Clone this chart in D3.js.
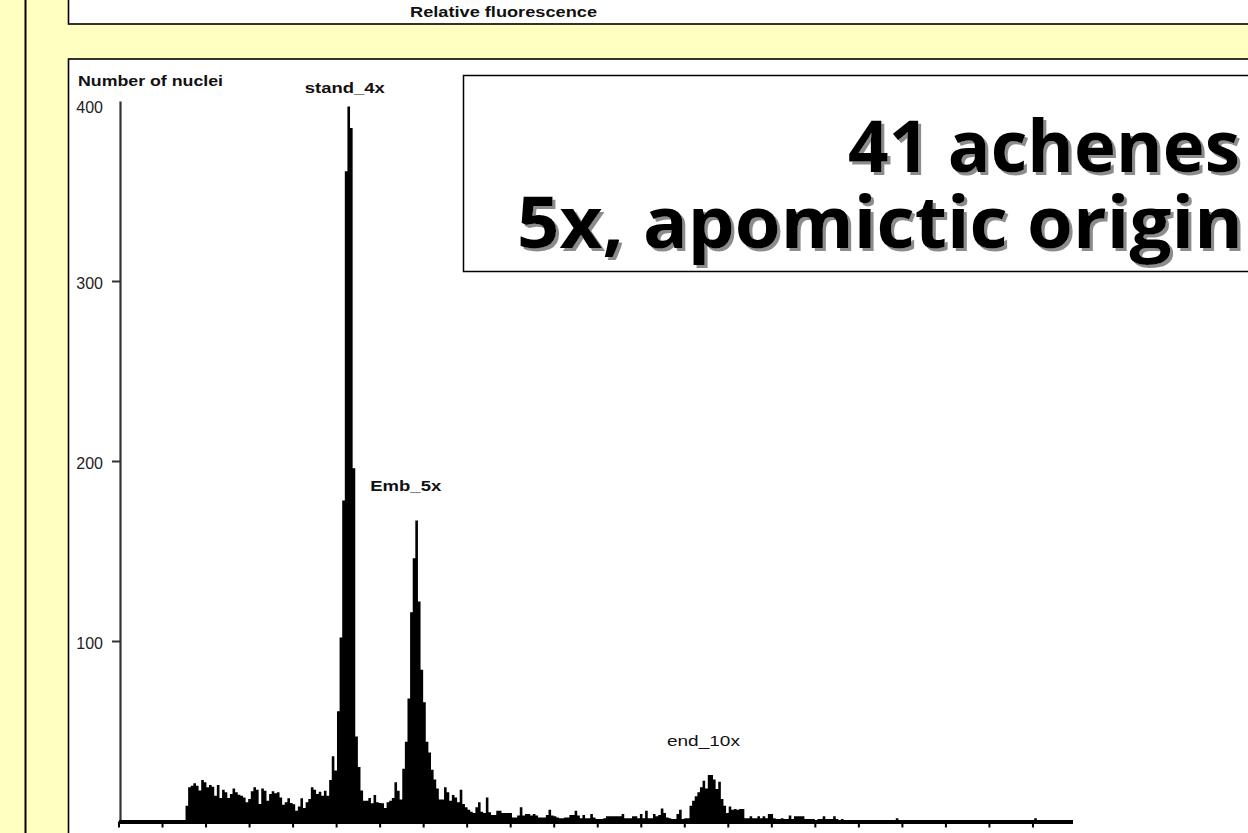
<!DOCTYPE html>
<html><head><meta charset="utf-8">
<script src="https://cdn.jsdelivr.net/npm/d3@7"></script>
<style>
html,body{margin:0;padding:0;background:#ffffc0;overflow:hidden}
svg{display:block}
</style></head><body>
<svg id="chart" width="1248" height="833"></svg>
<script>
// ---- data ----
const counts = [
 8.5,18.7,19.6,21,19.6,17,22.8,21.5,18.7,20,19,14,20,12.8,17.4,16,12.8,15,18,16,
 14.6,14,13,10.4,12.2,16.5,18.7,17.4,9.4,18,16.8,11.3,15,16.5,15.4,16,13,9,10.4,12.6,
 10,9.3,5.7,8,12.6,7.2,10.4,12.2,18.7,17.4,15,16.3,14,16.8,14,
 22.8,36,28,61,102,178,361,397,385,196,47,30,17,
 11.3,11.3,12.8,9.8,14.4,10.4,10,9.8,7.2,10.4,11.3,12.8,21.5,16.8,12,29,
 44,68,116,146,167,122,84,66,44,38,
 28.5,23,18,12,12,18.7,16,11.3,14.4,13,10.4,17.4,9.4,
 7.6,6.3,5.2,4.4,7.6,10.4,5.2,4.4,13,4.8,3.3,3.3,5.7,5.7,4.4,4.4,4.4,4.4,2,2,3,7.6,3,3.9,3.9,
 3,3.9,3,2,2,2,3.3,6.3,3,2.6,2,1.5,1.5,2,2,3.3,3.3,5.7,3,1.5,3.3,1.5,1.5,3.9,2,
 1.1,1.1,1.1,1.5,2.6,2.6,2.6,2.6,2.6,2.6,3.9,1.5,1.5,1.5,2.6,2.6,1.5,3.9,1.5,5.7,1.5,1.5,3.9,2.6,3.3,
 7,4.4,2,1.5,1.1,1.1,3.9,6.3,1.1,1.5,1.5,8.5,11.3,13.7,16,18.7,22.4,18,25.5,25.5,23,17.8,21.8,12.2,8.5,
 4.4,8,6.3,6.7,6.3,6.7,6.7,1.5,1.5,2.6,
 1.5,1.5,2.6,1.5,2.6,1.5,3.9,3.9,
 1.5,1.1,1.1,1.5,1.1,1.1,3,1.1,2.6,2.6,2.6,2.6,1.1,1.1,1.1,1.1,0,1.1,1.1,2.6,1.1,1.1,1.1,2.6,1.1,0,1.1,0,
 0,0,0,0,0,0,0,0,0,0,0,0,0,0,0,0,0,0,0,1.5,
 0,0,0,0,0,0,0,0,0,0,0,0,0,0,0,0,0,0,0,0,0,0,0,0,0,0,0,0,0,0,0,0,0,0,0,0,0,0,0,0,
 0,0,0,0,0,0,0,0,0,0,0,0,1.5,0
];
const BIN_START = 77;   // first channel of the histogram
const BIN_WIDTH = 3;    // channels per bar
const xTicks = [0,50,100,150,200,250,300,350,400,450,500,550,600,650,700,750,800,850,900,950,1000,1050];
const yTicks = [100,200,300,400];
const yTickLabels = ["100","200","300","400"];
const peakNames = ["stand_4x","Emb_5x","end_10x"];
const peakChannels = [260,330,672];
const titleLines = ["41 achenes","5x, apomictic origin"];
const yAxisTitle = "Number of nuclei";
const xAxisTitle = "Relative fluorescence";

// ---- drawing ----
const svg = d3.select("#chart");
const W = 1248, H = 833;

const defs = svg.append("defs");
const f = defs.append("filter").attr("id","shadow").attr("x","-5%").attr("y","-20%")
  .attr("width","115%").attr("height","150%");
f.append("feDropShadow").attr("dx",3).attr("dy",3).attr("stdDeviation",0.4)
  .attr("flood-color","#8c8c8c").attr("flood-opacity",1);

svg.append("rect").attr("x",0).attr("y",0).attr("width",W).attr("height",H).attr("fill","#ffffc0");
svg.append("line").attr("x1",25.5).attr("x2",25.5).attr("y1",0).attr("y2",H)
  .attr("stroke","#000").attr("stroke-width",2);

// top (previous) panel
svg.append("rect").attr("x",68.5).attr("y",-10).attr("width",1300).attr("height",34)
  .attr("fill","#fff").attr("stroke","#000").attr("stroke-width",1.6);
svg.append("text").attr("x",410).attr("y",17).attr("textLength",187).attr("lengthAdjust","spacingAndGlyphs")
  .attr("font-family","Liberation Sans, Arial, sans-serif").attr("font-size",15).attr("font-weight","bold")
  .attr("fill","#111").text(xAxisTitle);

// main panel
svg.append("rect").attr("x",68.5).attr("y",59).attr("width",1300).attr("height",900)
  .attr("fill","#fff").attr("stroke","#000").attr("stroke-width",1.6);

const x = d3.scaleLinear().domain([0,1096]).range([118.5,1072.5]);
const y = d3.scaleLinear().domain([0,400]).range([821,101]);

// histogram as step area
const pts = counts.map((v,i)=>({c:BIN_START+i*BIN_WIDTH, v}));
pts.push({c:BIN_START+counts.length*BIN_WIDTH, v:0});
const area = d3.area().curve(d3.curveStepAfter)
  .x(d=>x(d.c)).y0(y(0)).y1(d=>y(d.v));
svg.append("path").datum(pts).attr("d",area).attr("fill","#000");

// y axis
const gy = svg.append("g").attr("transform","translate(120,0)")
  .call(d3.axisLeft(y).tickValues(yTicks).tickSize(8).tickSizeOuter(0).tickPadding(9)
    .tickFormat((d,i)=>yTickLabels[i]));
gy.select(".domain").attr("stroke","#333").attr("stroke-width",2.2);
gy.selectAll(".tick line").attr("stroke","#333").attr("stroke-width",2);
gy.selectAll(".tick").filter(d=>d===400).select("line").remove();
gy.selectAll(".tick text").attr("font-family","Liberation Sans, Arial, sans-serif")
  .attr("font-size",16).attr("fill","#222").attr("dy",d=>d===400?"0.7em":"0.45em");

// x axis
const gx = svg.append("g").attr("transform","translate(0,821.5)")
  .call(d3.axisBottom(x).tickValues(xTicks).tickSize(6).tickSizeOuter(0).tickFormat(""));
gx.select(".domain").attr("stroke","#000").attr("stroke-width",4);
gx.selectAll(".tick line").attr("stroke","#000").attr("stroke-width",2);

// axis title
svg.append("text").attr("x",78).attr("y",86).attr("textLength",145).attr("lengthAdjust","spacingAndGlyphs")
  .attr("font-family","Liberation Sans, Arial, sans-serif").attr("font-size",15).attr("font-weight","bold")
  .attr("fill","#111").text(yAxisTitle);

// peak labels
const labelVals = [407,186,44.7];
const labelW = [80,71,73];
peakNames.forEach((n,i)=>{
  svg.append("text").attr("x",x(peakChannels[i])).attr("y",y(labelVals[i])+5)
    .attr("text-anchor","middle").attr("textLength",labelW[i]).attr("lengthAdjust","spacingAndGlyphs")
    .attr("font-family","Liberation Sans, Arial, sans-serif").attr("font-size",15)
    .attr("font-weight", i===2?"normal":"bold").attr("fill","#111").text(n);
});

// title box
svg.append("rect").attr("x",463.5).attr("y",75.5).attr("width",900).attr("height",196)
  .attr("fill","#fff").attr("stroke","#000").attr("stroke-width",1.5);
const tx = [848,517], ty = [172,248], tw = [392,726];
titleLines.forEach((t,i)=>{
  svg.append("text").attr("x",tx[i]).attr("y",ty[i])
    .attr("textLength",tw[i]).attr("lengthAdjust","spacingAndGlyphs")
    .attr("font-family","Open Sans, sans-serif").attr("font-weight","bold").attr("font-size",72)
    .attr("fill","#000").attr("filter","url(#shadow)").text(t);
});
</script>
</body></html>
